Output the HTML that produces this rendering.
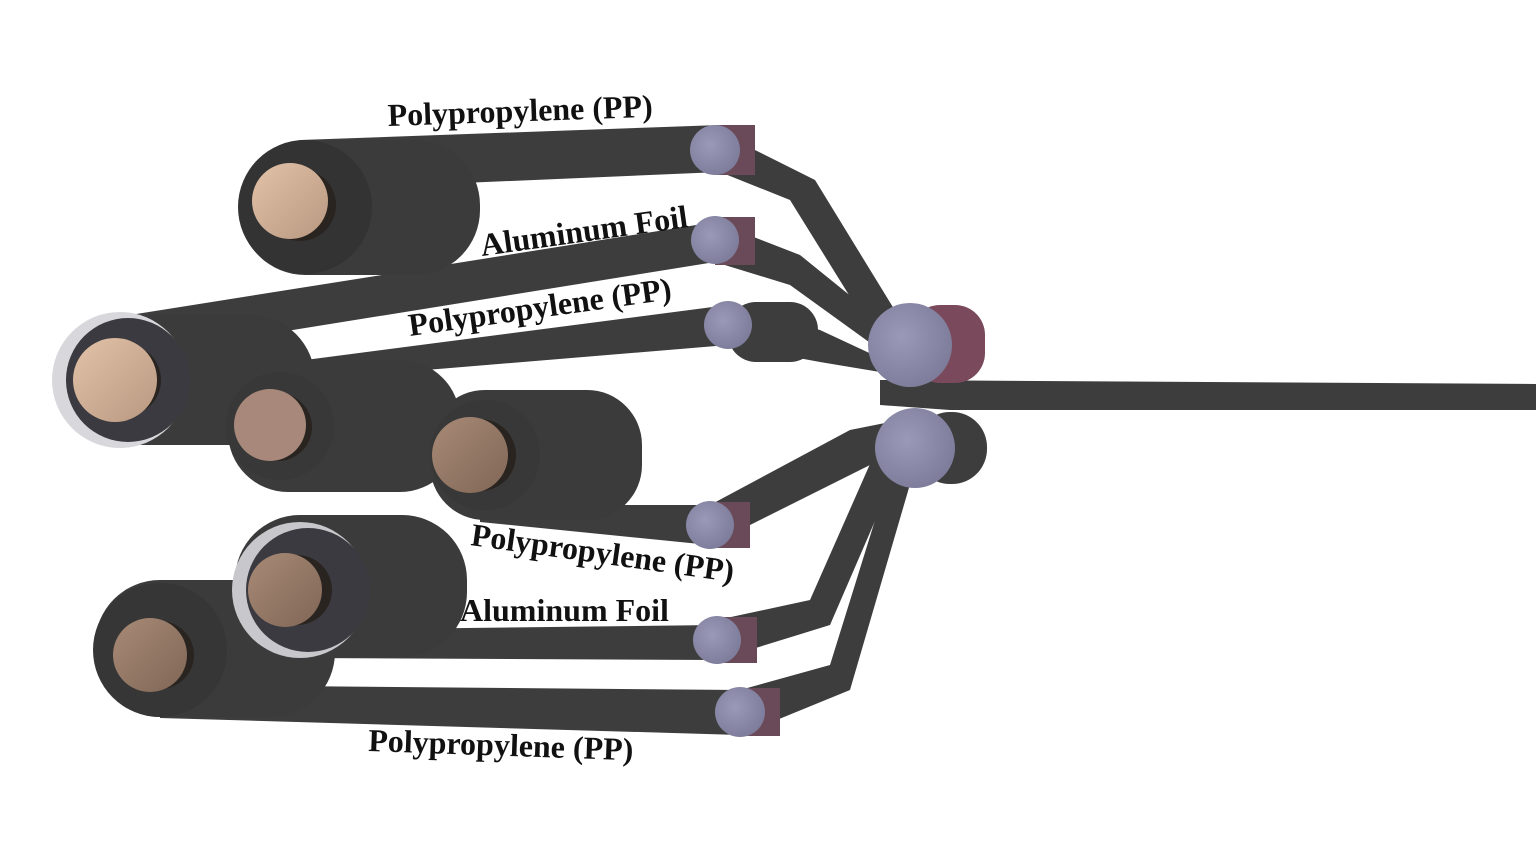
<!DOCTYPE html>
<html><head><meta charset="utf-8"><style>
html,body{margin:0;padding:0;background:#fff;}
svg{display:block}
text{font-family:"Liberation Serif",serif;font-weight:bold;font-size:32px;fill:#111}
</style></head><body>
<svg width="1536" height="864" viewBox="0 0 1536 864" xmlns="http://www.w3.org/2000/svg">
<defs>
<linearGradient id="core" x1="0" y1="0" x2="1" y2="1"><stop offset="0" stop-color="#e2c2a8"/><stop offset="1" stop-color="#b89880"/></linearGradient>
<linearGradient id="core2" x1="0" y1="0" x2="1" y2="1"><stop offset="0" stop-color="#a88a76"/><stop offset="1" stop-color="#806656"/></linearGradient>
<radialGradient id="rol" cx="0.4" cy="0.4" r="0.7"><stop offset="0" stop-color="#9a9ab8"/><stop offset="1" stop-color="#7a7a98"/></radialGradient>
</defs>
<g fill="#3d3d3d">
<polygon points="880,380 1536,384 1536,410 950,410 880,405"/>
<polygon points="715,130 815,180 910,335 880,345 790,200 715,170"/>
<polygon points="715,222 800,255 905,340 880,350 790,285 715,262"/>
<polygon points="728,305 820,330 910,372 880,372 820,362 728,345"/>
<polygon points="710,505 850,430 900,420 900,450 860,470 710,545"/>
<polygon points="717,620 810,600 885,430 910,440 830,625 717,660"/>
<polygon points="740,690 830,665 900,440 920,450 850,690 740,735"/>
<polygon points="300,140 720,125 720,172 300,190"/>
<polygon points="130,315 715,222 715,262 200,345"/>
<polygon points="290,362 728,305 728,345 330,378"/>
<polygon points="480,505 710,505 710,545 480,522"/>
<polygon points="300,630 717,625 717,660 300,658"/>
<polygon points="160,685 740,690 740,735 160,718"/>
</g>
<g fill="#3b3b3b">
<rect x="240" y="140" width="240" height="135" rx="65"/>
<rect x="55" y="315" width="260" height="130" rx="65"/>
<rect x="228" y="360" width="232" height="132" rx="60"/>
<rect x="430" y="390" width="212" height="130" rx="55"/>
<rect x="95" y="580" width="240" height="137" rx="65"/>
<rect x="235" y="515" width="232" height="142" rx="65"/>
</g>
<circle cx="305" cy="207" r="67" fill="#333"/>
<circle cx="120" cy="380" r="68" fill="#d8d8dc"/><circle cx="128" cy="380" r="62" fill="#3a3a40"/>
<circle cx="280" cy="426" r="54" fill="#383838"/>
<circle cx="485" cy="455" r="55" fill="#383838"/>
<circle cx="160" cy="650" r="67" fill="#363636"/>
<circle cx="300" cy="590" r="68" fill="#c8c8cc"/><circle cx="308" cy="590" r="62" fill="#3a3a40"/>
<circle cx="300" cy="205" r="36" fill="#2a2420"/><circle cx="290" cy="201" r="38" fill="url(#core)"/>
<circle cx="125" cy="380" r="36" fill="#2a2420"/><circle cx="115" cy="380" r="42" fill="url(#core)"/>
<circle cx="278" cy="427" r="34" fill="#2a2420"/><circle cx="270" cy="425" r="36" fill="#a8887a"/>
<circle cx="480" cy="455" r="36" fill="#2a2420"/><circle cx="470" cy="455" r="38" fill="url(#core2)"/>
<circle cx="160" cy="655" r="34" fill="#2a2420"/><circle cx="150" cy="655" r="37" fill="url(#core2)"/>
<circle cx="297" cy="590" r="35" fill="#2a2420"/><circle cx="285" cy="590" r="37" fill="url(#core2)"/>
<g>
<rect x="715" y="125" width="40" height="50" fill="#6a4a58"/><circle cx="715" cy="150" r="25" fill="url(#rol)"/>
<rect x="715" y="217" width="40" height="48" fill="#6a4a58"/><circle cx="715" cy="240" r="24" fill="url(#rol)"/>
<rect x="728" y="302" width="90" height="60" rx="28" fill="#3d3d3d"/><circle cx="728" cy="325" r="24" fill="url(#rol)"/>
<rect x="710" y="502" width="40" height="46" fill="#6a4a58"/><circle cx="710" cy="525" r="24" fill="url(#rol)"/>
<rect x="717" y="617" width="40" height="46" fill="#6a4a58"/><circle cx="717" cy="640" r="24" fill="url(#rol)"/>
<rect x="740" y="688" width="40" height="48" fill="#6a4a58"/><circle cx="740" cy="712" r="25" fill="url(#rol)"/>
</g>
<rect x="910" y="305" width="75" height="78" rx="30" fill="#7a4a5c"/>
<circle cx="910" cy="345" r="42" fill="url(#rol)"/>
<rect x="915" y="412" width="72" height="72" rx="35" fill="#3d3d3d"/>
<circle cx="915" cy="448" r="40" fill="url(#rol)"/>
<text x="388" y="126" transform="rotate(-2 388 126)">Polypropylene (PP)</text>
<text x="482" y="256" font-size="31" transform="rotate(-8 482 256)">Aluminum Foil</text>
<text x="410" y="336" transform="rotate(-8 410 336)">Polypropylene (PP)</text>
<text x="470" y="545" transform="rotate(8 470 545)">Polypropylene (PP)</text>
<text x="460" y="621" font-size="31">Aluminum Foil</text>
<text x="368" y="751" transform="rotate(2 368 751)">Polypropylene (PP)</text>
</svg>
</body></html>
